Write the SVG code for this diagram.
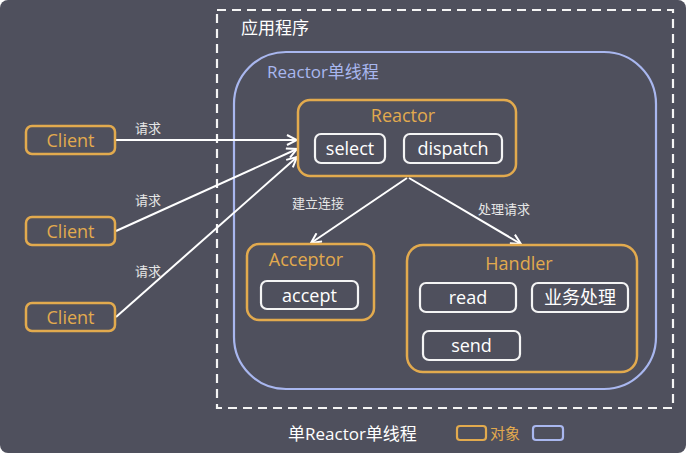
<svg xmlns="http://www.w3.org/2000/svg" width="686" height="453" viewBox="0 0 686 453">
<defs>
<style>
.obj{fill:none;stroke:#e2aa4e;stroke-width:2.5}
.sub{fill:none;stroke:#f4f4f4;stroke-width:2.2}
.t{font-family:"Open Sans","Noto Sans CJK SC",sans-serif}
.ot{fill:#e2aa4e;font-size:18px;text-anchor:middle}
.wt{fill:#ffffff;font-size:18px;text-anchor:middle}
.lb{fill:#e6e6e6;font-size:13px;text-anchor:middle}
.ln{stroke:#ffffff;stroke-width:2;fill:none}
</style>
<marker id="ah" viewBox="0 0 12 12" refX="11" refY="6" markerWidth="12" markerHeight="12" markerUnits="userSpaceOnUse" orient="auto">
<path d="M1,1 L11,6 L1,11" fill="none" stroke="#ffffff" stroke-width="2"/>
</marker>
</defs>
<rect x="0" y="0" width="686" height="453" fill="#ffffff"/>
<rect x="0" y="0" width="686" height="453" rx="8" fill="#4f505d"/>
<rect x="217" y="10" width="456" height="398" fill="none" stroke="#f4f4f4" stroke-width="2.2" stroke-dasharray="9,6"/>
<text class="t" x="241" y="34" fill="#ffffff" font-size="17">应用程序</text>
<rect x="234" y="52" width="422" height="337" rx="52" fill="none" stroke="#a9b7ef" stroke-width="2.2"/>
<text class="t" x="267" y="78" fill="#a9b7ef" font-size="17">Reactor单线程</text>
<g id="connectors">
<line class="ln" x1="116" y1="140" x2="297" y2="140" marker-end="url(#ah)"/>
<line class="ln" x1="116" y1="231" x2="297" y2="149" marker-end="url(#ah)"/>
<line class="ln" x1="116" y1="317" x2="297" y2="157" marker-end="url(#ah)"/>
<line class="ln" x1="407" y1="178" x2="311" y2="243" marker-end="url(#ah)"/>
<line class="ln" x1="409" y1="178" x2="521" y2="244" marker-end="url(#ah)"/>
<text class="t lb" x="148" y="133">请求</text>
<text class="t lb" x="148" y="205">请求</text>
<text class="t lb" x="148" y="276">请求</text>
<text class="t lb" x="318" y="208">建立连接</text>
<text class="t lb" x="504" y="214">处理请求</text>
</g>
<g id="client1"><rect class="obj" x="26" y="126" width="89" height="28" rx="6"/><text class="t ot" x="70.5" y="147">Client</text></g>
<g id="client2"><rect class="obj" x="26" y="217" width="89" height="28" rx="6"/><text class="t ot" x="70.5" y="238">Client</text></g>
<g id="client3"><rect class="obj" x="26" y="303" width="89" height="28" rx="6"/><text class="t ot" x="70.5" y="324">Client</text></g>
<g id="reactor">
<rect class="obj" x="298" y="100" width="218" height="76" rx="12"/>
<text class="t ot" x="403" y="122">Reactor</text>
<rect class="sub" x="315" y="134" width="70" height="29" rx="6"/>
<text class="t wt" x="350" y="155">select</text>
<rect class="sub" x="404" y="134" width="98" height="29" rx="6"/>
<text class="t wt" x="453" y="155">dispatch</text>
</g>
<g id="acceptor">
<rect class="obj" x="247" y="244" width="127" height="76" rx="12"/>
<text class="t ot" x="306" y="266">Acceptor</text>
<rect class="sub" x="261" y="281" width="97" height="28" rx="6"/>
<text class="t wt" x="309.5" y="302">accept</text>
</g>
<g id="handler">
<rect class="obj" x="407" y="245" width="230" height="127" rx="16"/>
<text class="t ot" x="519" y="270">Handler</text>
<rect class="sub" x="420" y="283" width="96" height="29" rx="6"/>
<text class="t wt" x="468" y="304">read</text>
<rect class="sub" x="532" y="283" width="96" height="29" rx="6"/>
<text class="t wt" x="580" y="304">业务处理</text>
<rect class="sub" x="423" y="331" width="97" height="29" rx="6"/>
<text class="t wt" x="471.5" y="352">send</text>
</g>
<g id="legend">
<text class="t" x="288" y="440" fill="#ffffff" font-size="17">单Reactor单线程</text>
<rect x="457" y="426" width="29" height="14" rx="3" fill="none" stroke="#e2aa4e" stroke-width="2.2"/>
<text class="t" x="490" y="439" fill="#e2aa4e" font-size="15">对象</text>
<rect x="533" y="426" width="30" height="14" rx="3" fill="none" stroke="#a9b7ef" stroke-width="2.2"/>
</g>
</svg>
